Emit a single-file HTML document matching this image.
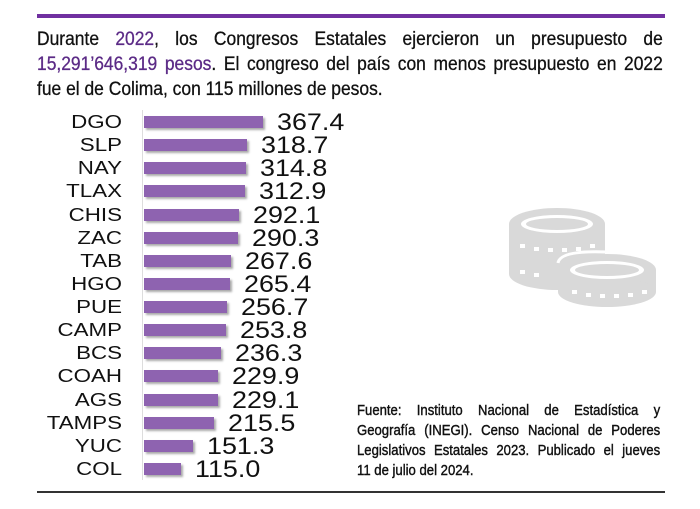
<!DOCTYPE html>
<html><head><meta charset="utf-8"><style>
body{margin:0;width:700px;height:509px;background:#fff;position:relative;overflow:hidden;font-family:"Liberation Sans",sans-serif}
.top{position:absolute;left:37px;top:14px;width:628px;height:4px;background:#7030a0}
.bot{position:absolute;left:37px;top:491px;width:628px;height:2px;background:#333}
.intro{position:absolute;left:37px;top:27px;width:700px;font-size:19.5px;line-height:25px;color:#111;transform:scaleX(0.894);transform-origin:left top;-webkit-text-stroke:0.3px #111}
.intro div,.src div{text-align:justify;text-align-last:justify;white-space:nowrap}
.intro div.l,.src div.l{text-align-last:left}
.p{color:#5b2a86;-webkit-text-stroke:0.3px #5b2a86}
.lab{position:absolute;width:90px;left:32px;text-align:right;font-size:18px;line-height:20px;color:#111;transform:scaleX(1.24);transform-origin:right center}
.bar{position:absolute;left:144px;height:12px;background:#8e63b0;box-shadow:2px 2px 2px #aaa}
.val{position:absolute;font-size:24px;line-height:26px;color:#111;transform:scaleX(1.12);transform-origin:left center}
.axis{position:absolute;left:142px;top:110px;width:1px;height:370px;background:#ddd}
.src{position:absolute;left:357px;top:401px;width:335px;font-size:14.5px;line-height:20px;color:#111;transform:scaleX(0.905);transform-origin:left top;-webkit-text-stroke:0.4px #111}
</style></head><body>
<div class="top"></div>
<div class="intro">
<div>Durante <span class="p">2022</span>, los Congresos Estatales ejercieron un presupuesto de</div>
<div><span class="p">15,291’646,319 pesos</span>. El congreso del país con menos presupuesto en 2022</div>
<div class="l">fue el de Colima, con 115 millones de pesos.</div>
</div>
<div class="axis"></div>
<div id="c"></div>
<svg style="position:absolute;left:500px;top:200px" width="165" height="110" viewBox="0 0 165 110">
<g fill="#d9d9d9">
<ellipse cx="57" cy="24" rx="48" ry="16"/><rect x="9" y="24" width="96" height="50"/><ellipse cx="57" cy="74" rx="48" ry="16"/>
<ellipse cx="107" cy="70" rx="49" ry="16"/><rect x="58" y="70" width="98" height="22"/><ellipse cx="107" cy="92" rx="49" ry="15"/>
</g>
<path d="M58 63 Q60 50 107 52 Q154 50 158 63" fill="none" stroke="#fff" stroke-width="3"/>
<ellipse cx="57" cy="24" rx="36" ry="9" fill="#fff"/>
<ellipse cx="57" cy="24" rx="31" ry="6" fill="#d9d9d9"/>
<ellipse cx="107" cy="70" rx="37" ry="9" fill="#fff"/>
<ellipse cx="107" cy="70" rx="32" ry="6" fill="#d9d9d9"/>
<g fill="#fff"><rect x="20" y="44" width="5" height="4"/><rect x="34" y="47" width="5" height="4"/><rect x="48" y="48" width="5" height="4"/><rect x="62" y="48" width="5" height="4"/><rect x="76" y="47" width="5" height="4"/><rect x="90" y="44" width="5" height="4"/>
<rect x="20" y="70" width="5" height="4"/><rect x="34" y="73" width="5" height="4"/>
<rect x="72" y="90" width="5" height="4"/><rect x="86" y="93" width="5" height="4"/><rect x="100" y="94" width="5" height="4"/><rect x="114" y="94" width="5" height="4"/><rect x="128" y="93" width="5" height="4"/><rect x="142" y="90" width="5" height="4"/></g>
</svg>
<div class="src">
<div>Fuente: Instituto Nacional de Estadística y</div>
<div>Geografía (INEGI). Censo Nacional de Poderes</div>
<div>Legislativos Estatales 2023. Publicado el jueves</div>
<div class="l">11 de julio del 2024.</div>
</div>
<div class="bot"></div>
<script>
var d=[["DGO",367.4],["SLP",318.7],["NAY",314.8],["TLAX",312.9],["CHIS",292.1],["ZAC",290.3],["TAB",267.6],["HGO",265.4],["PUE",256.7],["CAMP",253.8],["BCS",236.3],["COAH",229.9],["AGS",229.1],["TAMPS",215.5],["YUC",151.3],["COL",115.0]];
var h="";d.forEach(function(r,i){var y=122+i*23.13;var w=r[1]*0.324;
h+='<div class="lab" style="top:'+(y-10)+'px">'+r[0]+'</div><div class="bar" style="top:'+(y-6)+'px;width:'+w+'px"></div><div class="val" style="left:'+(144+w+14)+'px;top:'+(y-12)+'px">'+r[1].toFixed(1)+'</div>';});
document.getElementById("c").innerHTML=h;
</script>
</body></html>
